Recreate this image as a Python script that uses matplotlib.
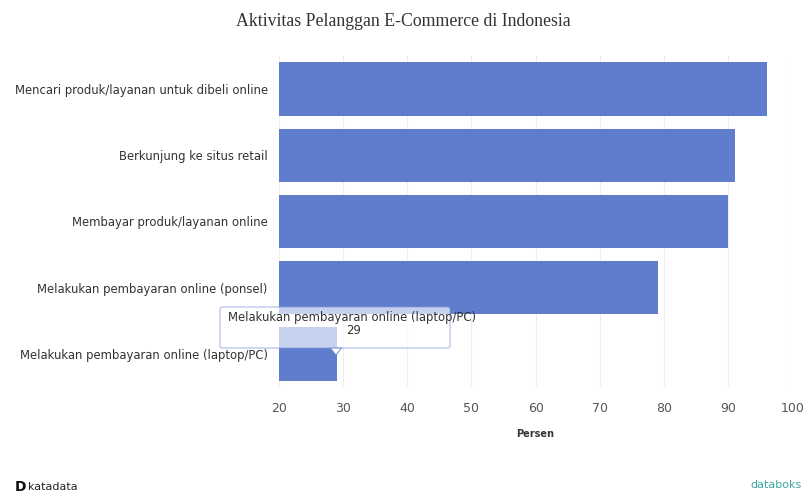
import matplotlib
matplotlib.use("Agg")
import matplotlib.pyplot as plt
from matplotlib.patches import FancyBboxPatch, Polygon

plt.rcParams["font.family"] = ["DejaVu Sans"]

categories = [
    "Mencari produk/layanan untuk dibeli online",
    "Berkunjung ke situs retail",
    "Membayar produk/layanan online",
    "Melakukan pembayaran online (ponsel)",
    "Melakukan pembayaran online (laptop/PC)",
]
values = [96, 91, 90, 79, 29]
xticks = [20, 30, 40, 50, 60, 70, 80, 90, 100]

fig = plt.figure(figsize=(8.06, 4.96), dpi=100)
ax = fig.add_axes([0.346, 0.22, 0.637, 0.667])

ypos = list(range(len(categories)))
ax.barh(ypos, [v - 20 for v in values], left=20, height=0.81, color="#5f7dcc", zorder=2)
ax.set_ylim(len(categories) - 0.5, -0.5)
ax.set_xlim(20, 100)
ax.set_xticks(xticks)
ax.set_xticklabels([str(t) for t in xticks], fontsize=9, color="#555555")
ax.set_yticks(ypos)
ax.set_yticklabels(categories, fontsize=8.4, color="#333333")
ax.tick_params(length=0, pad=8)
ax.tick_params(axis="x", pad=11)
ax.grid(axis="x", color="#eeeeee", linewidth=0.8, zorder=0)
for s in ax.spines.values():
    s.set_visible(False)
ax.set_xlabel("Persen", fontsize=7, fontweight="bold", color="#333333", labelpad=10)

fig.text(0.5, 1 - 22 / 496, "Aktivitas Pelanggan E-Commerce di Indonesia", ha="center", va="center",
         fontsize=12.8, family="Liberation Serif", color="#333333")

# tooltip
tx0, tx1 = 220 / 806, 450 / 806
ty0, ty1 = 1 - 348 / 496, 1 - 307 / 496
box = FancyBboxPatch((tx0, ty0), tx1 - tx0, ty1 - ty0, boxstyle="round,pad=0,rounding_size=0.004",
                     transform=fig.transFigure, facecolor="white", alpha=0.65,
                     edgecolor="#7f95d8", linewidth=0.8, zorder=5)
fig.add_artist(box)
px = 336 / 806
tri = Polygon([(px - 0.007, ty0), (px + 0.007, ty0), (px, ty0 - 0.014)], closed=True,
              transform=fig.transFigure, facecolor="white", edgecolor="#7f95d8", linewidth=0.8, zorder=5)
fig.add_artist(tri)
fig.text(228 / 806, 1 - 317 / 496, "Melakukan pembayaran online (laptop/PC)", ha="left", va="center",
         fontsize=8.4, color="#333333", zorder=6)
fig.text(354 / 806, 1 - 330 / 496, str(values[4]), ha="center", va="center",
         fontsize=8.4, color="#333333", zorder=6)

# logos
fig.text(0.018, 0.018, "D", fontsize=10, fontweight="bold", color="#111111", va="center")
fig.text(0.035, 0.018, "katadata", fontsize=8, color="#222222", va="center")
fig.text(0.995, 0.022, "databoks", fontsize=8, color="#3aa6a0", ha="right", va="center")

fig.savefig("out.png", dpi=100, facecolor="white")
